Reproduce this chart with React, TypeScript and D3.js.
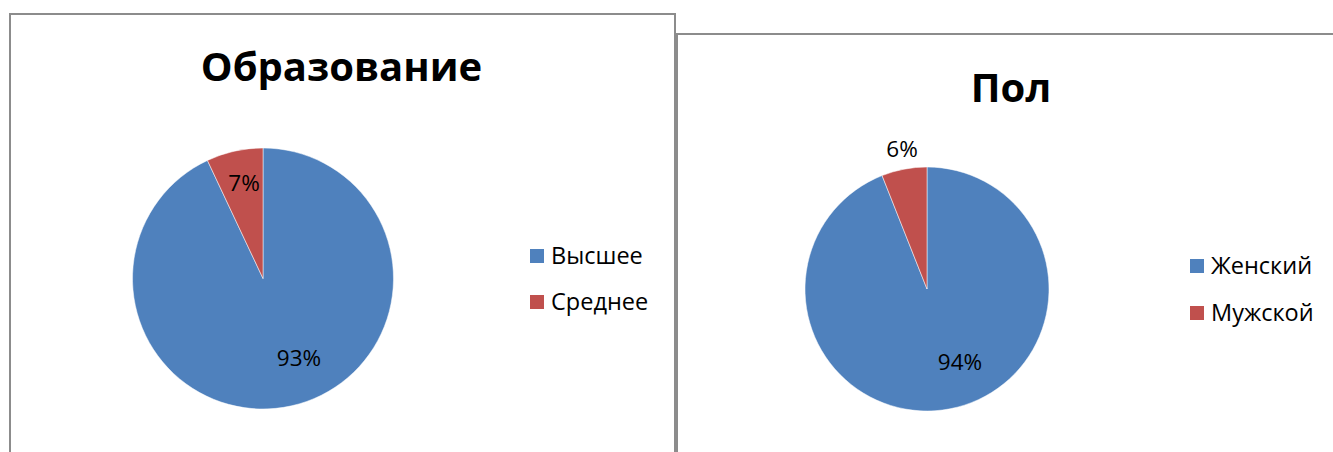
import React from "react";
import * as d3 from "d3";

const eduCategories = ["Высшее", "Среднее"];
const eduValues = [93, 7];
const eduTitle = "Образование";

const sexCategories = ["Женский", "Мужской"];
const sexValues = [94, 6];
const sexTitle = "Пол";

const colors = ["#4F81BD", "#C0504D"];
const FONT = "'Open Sans', 'Noto Sans', 'DejaVu Sans', sans-serif";

type PieProps = {
  title: string;
  cats: string[];
  vals: number[];
  cx: number;
  cy: number;
  r: number;
  titleX: number;
  titleY: number;
  legendX: number;
  legendY: number;
  legendGap: number;
  labelPos: { x: number; y: number }[];
};

function PieChart(p: PieProps) {
  const pie = d3.pie<number>().sort(null).value((d) => d);
  const arcs = pie(p.vals);
  const arc = d3.arc<d3.PieArcDatum<number>>().innerRadius(0).outerRadius(p.r);
  const total = d3.sum(p.vals);
  return (
    <g>
      <text
        x={p.titleX}
        y={p.titleY}
        textAnchor="middle"
        fontFamily={FONT}
        fontWeight="bold"
        fontSize={40}
        fill="#000"
      >
        {p.title}
      </text>
      <g transform={`translate(${p.cx},${p.cy})`}>
        {arcs.map((a, i) => (
          <path key={i} d={arc(a) || ""} fill={colors[i]} stroke="#fff" strokeWidth={0.5} />
        ))}
      </g>
      {arcs.map((a, i) => (
        <text
          key={i}
          x={p.labelPos[i].x}
          y={p.labelPos[i].y}
          textAnchor="middle"
          fontFamily={FONT}
          fontSize={22.5}
          fill="#000"
        >
          {d3.format(".0%")(a.data / total)}
        </text>
      ))}
      {p.cats.map((c, i) => (
        <g key={c} transform={`translate(${p.legendX},${p.legendY + i * p.legendGap})`}>
          <rect x={0} y={-7} width={14} height={14} fill={colors[i]} />
          <text x={21} y={8} fontFamily={FONT} fontSize={23.5} fill="#000">
            {c}
          </text>
        </g>
      ))}
    </g>
  );
}

export default function App() {
  return (
    <svg
      width={1333}
      height={452}
      style={{ position: "absolute", left: 0, top: 0, background: "#fff" }}
    >
      <rect x={10} y={14} width={665} height={460} fill="#fff" stroke="#8c8c8c" strokeWidth={2} />
      <rect x={677} y={34} width={700} height={440} fill="#fff" stroke="#8c8c8c" strokeWidth={2} />
      <PieChart
        title={eduTitle}
        cats={eduCategories}
        vals={eduValues}
        cx={263}
        cy={278.5}
        r={130.5}
        titleX={341.5}
        titleY={81}
        legendX={530}
        legendY={256}
        legendGap={46}
        labelPos={[
          { x: 299, y: 366 },
          { x: 244, y: 191 },
        ]}
      />
      <PieChart
        title={sexTitle}
        cats={sexCategories}
        vals={sexValues}
        cx={927}
        cy={289}
        r={122}
        titleX={1011}
        titleY={102}
        legendX={1190}
        legendY={266}
        legendGap={47}
        labelPos={[
          { x: 960, y: 370 },
          { x: 902, y: 157 },
        ]}
      />
    </svg>
  );
}
